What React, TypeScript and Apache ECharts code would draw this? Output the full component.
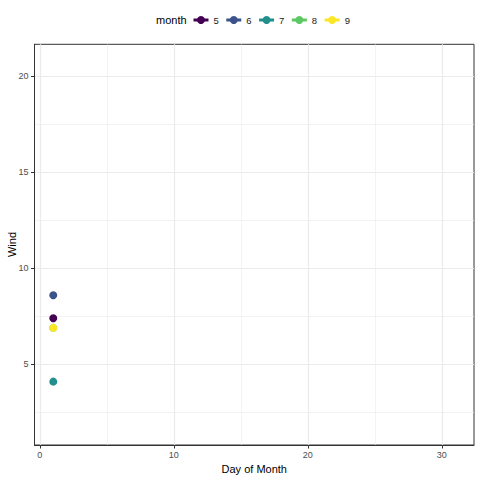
import React, { useEffect, useRef } from "react";
import * as echarts from "echarts";

const months = ["5", "6", "7", "8", "9"];
const days = [1, 1, 1, 1, 1];
const wind = [7.4, 8.6, 4.1, 6.9, 6.9];
const colors = ["#440154", "#3B528B", "#21908C", "#5DC863", "#FDE725"];
const xMajor = [0, 10, 20, 30];
const xMinor = [5, 15, 25];
const yMajor = [5, 10, 15, 20];
const yMinor = [2.5, 7.5, 12.5, 17.5];

const FONT = "Liberation Sans, Arial, sans-serif";

export default function App() {
  const ref = useRef<HTMLDivElement>(null);
  useEffect(() => {
    if (!ref.current) return;
    const chart = echarts.init(ref.current, null, { renderer: "svg" });
    const xmin = -0.4, xmax = 32.4, ymin = 0.8, ymax = 21.67;
    chart.setOption({
      animation: false,
      textStyle: { fontFamily: FONT },
      grid: {
        left: 34.5,
        right: 6,
        top: 44.3,
        bottom: 35,
        containLabel: false,
        outerBoundsMode: "none",
        show: true,
        borderColor: "#333333",
        borderWidth: 1,
        backgroundColor: "#ffffff",
      },
      legend: {
        left: 187,
        top: 10,
        padding: 5,
        itemWidth: 15,
        itemHeight: 10,
        itemGap: 6,
        lineStyle: { width: 3 },
        textStyle: { fontFamily: FONT, fontSize: 9.5, color: "#1a1a1a" },
        data: months,
      },
      graphic: [
        {
          type: "text",
          left: 156,
          top: 14,
          style: { text: "month", font: `11px ${FONT}`, fill: "#000" },
        },
        {
          type: "text",
          x: 12,
          y: 244.5,
          rotation: Math.PI / 2,
          style: {
            text: "Wind",
            font: `11px ${FONT}`,
            fill: "#000",
            align: "center",
            verticalAlign: "middle",
          },
        },
      ],
      xAxis: [
        {
          type: "value",
          min: xmin,
          max: xmax,
          name: "Day of Month",
          nameLocation: "middle",
          nameGap: 17,
          nameTextStyle: { fontSize: 11, color: "#000", fontFamily: FONT },
          axisLine: { show: true, onZero: false, lineStyle: { color: "#333333", width: 1 } },
          axisTick: { show: true, length: 3.5, customValues: xMajor, lineStyle: { color: "#333333" } },
          axisLabel: { customValues: xMajor, fontSize: 9, color: "#4d4d4d", margin: 5, fontFamily: FONT },
          splitLine: { show: true, lineStyle: { color: "#EBEBEB", width: 1.2 } },
        },
        {
          type: "value",
          min: xmin,
          max: xmax,
          position: "bottom",
          axisLine: { show: false },
          axisTick: { show: false, customValues: xMinor },
          axisLabel: { show: false, customValues: xMinor },
          splitLine: { show: true, lineStyle: { color: "#EBEBEB", width: 0.6 } },
        },
      ],
      yAxis: [
        {
          type: "value",
          min: ymin,
          max: ymax,
          axisLine: { show: true, onZero: false, lineStyle: { color: "#333333", width: 1 } },
          axisTick: { show: true, length: 3.5, customValues: yMajor, lineStyle: { color: "#333333" } },
          axisLabel: { customValues: yMajor, fontSize: 9, color: "#4d4d4d", margin: 6, fontFamily: FONT },
          splitLine: { show: true, lineStyle: { color: "#EBEBEB", width: 1.2 } },
        },
        {
          type: "value",
          min: ymin,
          max: ymax,
          position: "left",
          axisLine: { show: false },
          axisTick: { show: false, customValues: yMinor },
          axisLabel: { show: false, customValues: yMinor },
          splitLine: { show: true, lineStyle: { color: "#EBEBEB", width: 0.6 } },
        },
      ],
      series: months.map((m, i) => ({
        name: m,
        type: "line",
        xAxisIndex: 0,
        yAxisIndex: 0,
        data: [[days[i], wind[i]]],
        symbol: "circle",
        symbolSize: 8,
        showSymbol: true,
        itemStyle: { color: colors[i] },
        lineStyle: { color: colors[i], width: 3 },
        emphasis: { disabled: true },
      })),
    });
    return () => chart.dispose();
  }, []);
  return (
    <div
      ref={ref}
      style={{ position: "fixed", left: 0, top: 0, width: 480, height: 480, background: "#fff" }}
    />
  );
}
